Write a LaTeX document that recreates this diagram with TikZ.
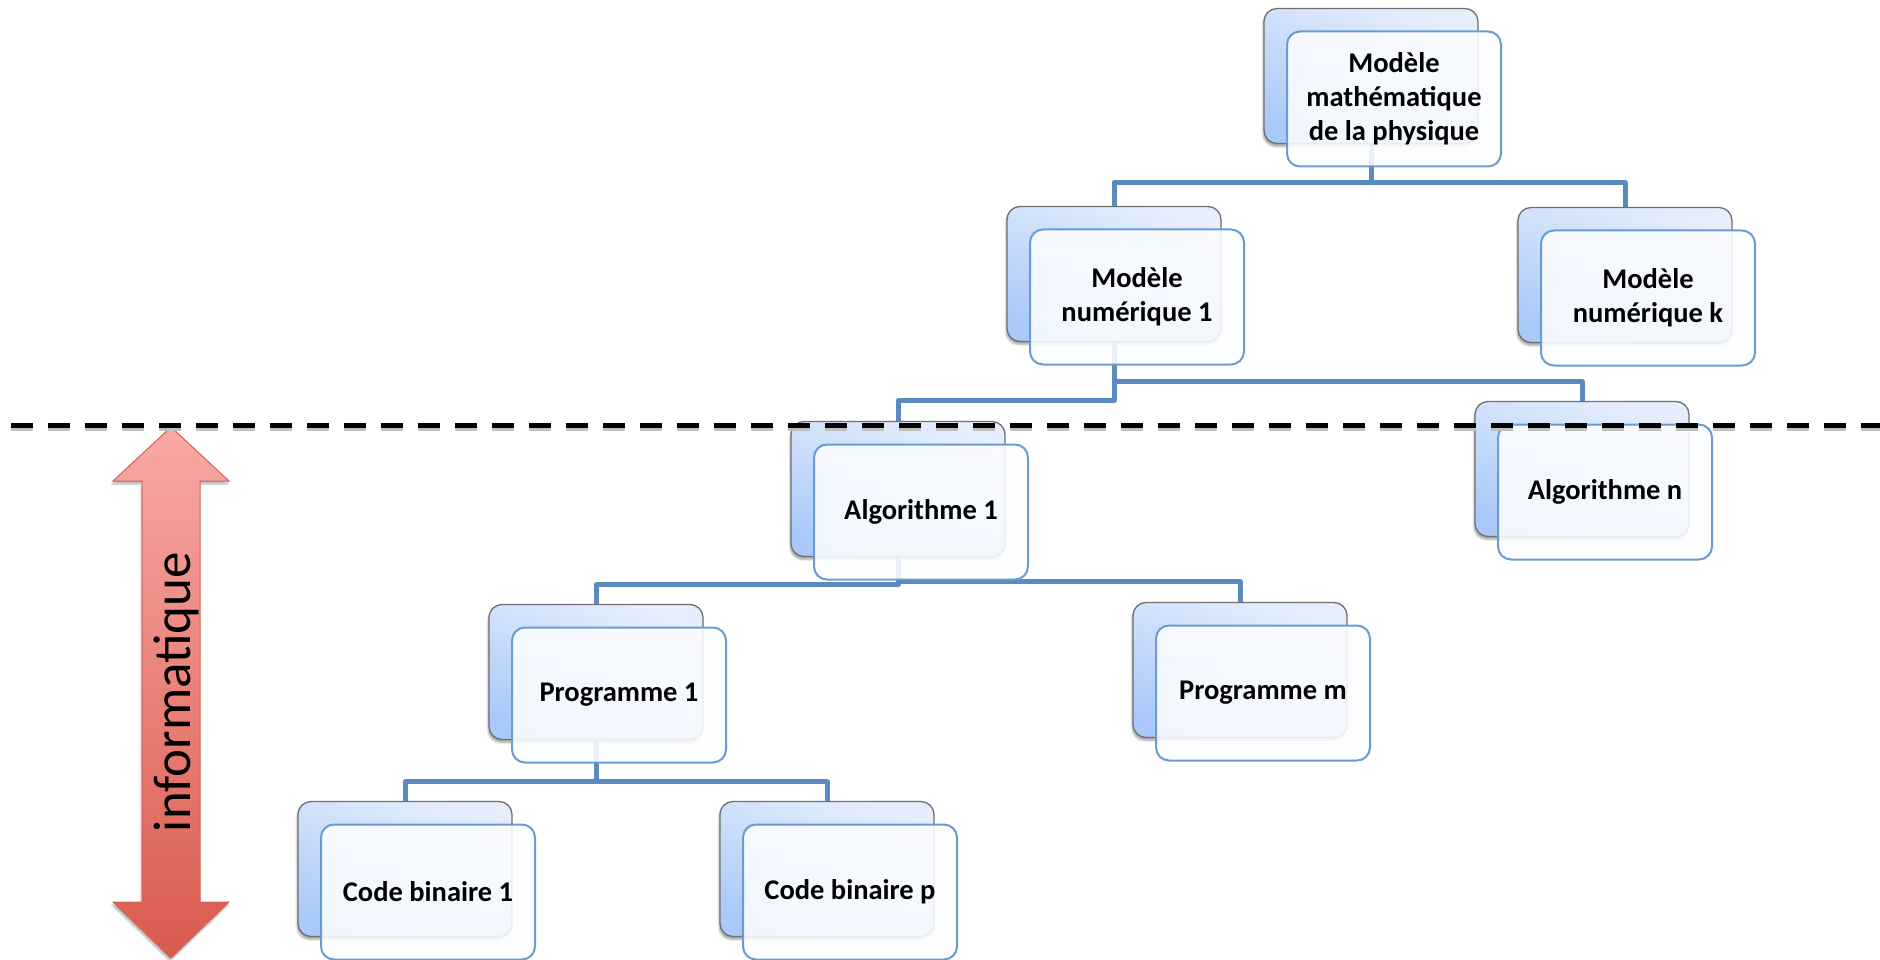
\documentclass[tikz,border=0pt]{standalone}
\usepackage{fontspec}
\setmainfont{Carlito}
\usetikzlibrary{calc,shadows.blur}
\definecolor{conn}{HTML}{5A8AC0}
\definecolor{backtop}{HTML}{E6EEFC}
\definecolor{backbot}{HTML}{A9C9F9}
\definecolor{backline}{HTML}{6F6F6F}
\definecolor{frontline}{HTML}{6A9BD1}
\definecolor{frontfill}{HTML}{FCFDFF}
\definecolor{arrtop}{HTML}{F9A9A4}
\definecolor{arrbot}{HTML}{D95A4E}
\definecolor{arrline}{HTML}{D0635B}
\begin{document}
\begin{tikzpicture}[x=1pt,y=-1pt,
  backcard/.style={draw=backline, line width=1.3pt, rounded corners=13pt,
    minimum width=214pt, minimum height=135pt, inner sep=0pt,
    top color=backtop, bottom color=backbot, shading angle=-20,
    blur shadow={shadow xshift=-1pt, shadow yshift=-3pt, shadow blur steps=6, shadow opacity=35}},
  frontcard/.style={draw=frontline, line width=2pt, rounded corners=13pt,
    minimum width=214pt, minimum height=135pt, inner sep=0pt,
    fill=frontfill, fill opacity=0.88, text opacity=1, align=center,
    font=\fontsize{28.5}{34}\selectfont\bfseries},
  link/.style={draw=conn, line width=5pt, line join=round},
  dashline/.style={line width=5pt, dash pattern=on 22pt off 15pt, dash phase=26pt}
]
\useasboundingbox (0,0) rectangle (1880,960);

% back cards
\node[backcard] (mathB) at (1371,76) {};
\node[backcard] (num1B) at (1114,274) {};
\node[backcard] (numkB) at (1625,275) {};
\node[backcard] (algo1B) at (898,489) {};
\node[backcard] (algonB) at (1582,469) {};
\node[backcard] (prog1B) at (596,672) {};
\node[backcard] (progmB) at (1240,670) {};
\node[backcard] (code1B) at (405,869) {};
\node[backcard] (codepB) at (827,869) {};

% connectors
\draw[link] (mathB.south) |- ($(num1B.north)+(0,-23)$) -- (num1B.north);
\draw[link] (mathB.south) |- ($(numkB.north)+(0,-24)$) -- (numkB.north);
\draw[link] (num1B.south) |- ($(algo1B.north)+(0,-20)$) -- (algo1B.north);
\draw[link] (num1B.south) |- ($(algonB.north)+(0,-19)$) -- (algonB.north);
\draw[link] (algo1B.south) |- ($(prog1B.north)+(0,-19)$) -- (prog1B.north);
\draw[link] (algo1B.south) |- ($(progmB.north)+(0,-20)$) -- (progmB.north);
\draw[link] (prog1B.south) |- ($(code1B.north)+(0,-19)$) -- (code1B.north);
\draw[link] (prog1B.south) |- ($(codepB.north)+(0,-19)$) -- (codepB.north);

% front cards
\node[frontcard] (mathF) at (1394,99) {Modèle\\mathématique\\de la physique};
\node[frontcard] (num1F) at (1137,297) {Modèle\\numérique 1};
\node[frontcard] (numkF) at (1648,298) {Modèle\\numérique k};
\node[frontcard] (algo1F) at (921,512) {Algorithme 1};
\node[frontcard] (algonF) at (1605,492) {Algorithme n};
\node[frontcard] (prog1F) at (619,695) {Programme 1};
\node[frontcard] (progmF) at (1263,693) {Programme m};
\node[frontcard] (code1F) at (428,892) {Code binaire 1};
\node[frontcard] (codepF) at (850,892) {Code binaire p};

% double arrow
\shadedraw[top color=arrtop, bottom color=arrbot, draw=arrline, line width=1pt,
  blur shadow={shadow xshift=-1pt, shadow yshift=-3pt, shadow blur steps=6, shadow opacity=30}]
  (171,427) -- (229,481) -- (200,481) -- (200,902) -- (229,902) -- (171,958)
  -- (113,902) -- (142,902) -- (142,481) -- (113,481) -- cycle;
\node[rotate=90, font=\fontsize{53}{60}\selectfont] (info) at (176,692) {informatique};

% dashed separator
\coordinate (dl) at (0,425);
\coordinate (dr) at (1880,425);
\draw[dashline, black!25, transform canvas={yshift=-3pt}] (dl) -- (dr);
\draw[dashline, black] (dl) -- (dr);
\end{tikzpicture}
\end{document}
